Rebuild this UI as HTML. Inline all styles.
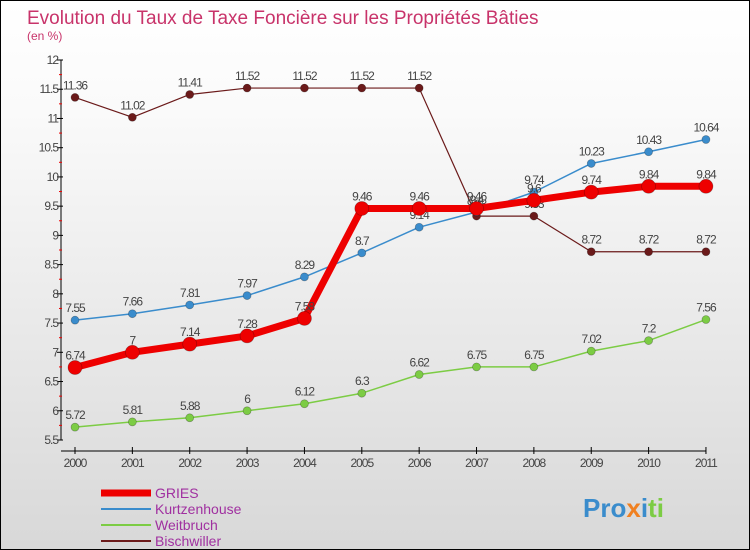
<!DOCTYPE html>
<html><head><meta charset="utf-8"><style>
body{margin:0;}
#wrap{width:748px;height:548px;border:1px solid #000;position:relative;background:linear-gradient(#fff,#fafafa 20%,#d8d8d8);font-family:"Liberation Sans",sans-serif;overflow:hidden}
</style></head><body>
<div id="wrap">
<svg id="c" width="748" height="548"></svg>
</div>
<script>
const years=["2000","2001","2002","2003","2004","2005","2006","2007","2008","2009","2010","2011"];
const gries=[6.74,7,7.14,7.28,7.58,9.46,9.46,9.46,9.6,9.74,9.84,9.84];
const kurtz=[7.55,7.66,7.81,7.97,8.29,8.7,9.14,9.4,9.74,10.23,10.43,10.64];
const weit=[5.72,5.81,5.88,6,6.12,6.3,6.62,6.75,6.75,7.02,7.2,7.56];
const bisch=[11.36,11.02,11.41,11.52,11.52,11.52,11.52,9.33,9.33,8.72,8.72,8.72];
const yTicks=[5.5,6,6.5,7,7.5,8,8.5,9,9.5,10,10.5,11,11.5,12];
const NS="http://www.w3.org/2000/svg";
const svg=document.getElementById('c');
function X(i){return 74+i*57.36;}
function Y(v){return 59+(12-v)*58.46;}
function el(t,a,p){const e=document.createElementNS(NS,t);for(const k in a)e.setAttribute(k,a[k]);(p||svg).appendChild(e);return e;}
let t=el('text',{x:26,y:23,'font-size':19,fill:'#c8336a'});t.textContent="Evolution du Taux de Taxe Foncière sur les Propriétés Bâties";


t=el('text',{x:26,y:39,'font-size':12,fill:'#c8336a'});t.textContent="(en %)";


// axes
let a=el('line',{x1:60,y1:Y(12),x2:60,y2:Y(5.5),stroke:'#000'});


a=el('line',{x1:60,y1:450,x2:X(11),y2:450,stroke:'#000'});


yTicks.forEach((v,i)=>{
  el('line',{x1:56,y1:Y(v),x2:62,y2:Y(v),stroke:'#000'});
  if(i<yTicks.length-1)el('line',{x1:58,y1:Y(v+0.25),x2:61,y2:Y(v+0.25),stroke:'#e00'});
  const tt=el('text',{x:57,y:Y(v)+4,'font-size':12,'text-anchor':'end',fill:'#444','letter-spacing':'-1'});tt.textContent=v;
  
  
});
years.forEach((y,i)=>{
  el('line',{x1:X(i),y1:446,x2:X(i),y2:453,stroke:'#000'});
  const tt=el('text',{x:X(i),y:466,'font-size':12,'text-anchor':'middle',fill:'#444','letter-spacing':'-1'});tt.textContent=y;
  
  
});
function series(d,col,w,r,name){
  const g=el('g',{});
  
  
  el('polyline',{points:d.map((v,i)=>X(i)+','+Y(v)).join(' '),fill:'none',stroke:col,'stroke-width':w,'stroke-linejoin':'round'},g);
  d.forEach((v,i)=>{
    const c=el('circle',{cx:X(i),cy:Y(v),r:r,fill:col,stroke:'rgba(0,0,0,0.3)','stroke-width':0.7},g);
    
    
    const tt=el('text',{x:X(i),y:Y(v)-8,'font-size':12,'text-anchor':'middle',fill:'#444','letter-spacing':'-1'},g);tt.textContent=v;
    
    
  });
}
series(bisch,'#6b1a1a',1.2,4,'bischwiller');
series(weit,'#7ccc44',1.5,4,'weitbruch');
series(kurtz,'#3a8ccc',1.5,4,'kurtzenhouse');
series(gries,'#ee0000',7,7,'gries');
// legend
const leg=[["GRIES","#ee0000",7],["Kurtzenhouse","#3a8ccc",2],["Weitbruch","#7ccc44",2],["Bischwiller","#6b1a1a",2]];
leg.forEach((l,i)=>{
  const y=492+i*16;
  const g=el('g',{});
  
  
  el('line',{x1:100,y1:y,x2:150,y2:y,stroke:l[1],'stroke-width':l[2]},g);
  const tt=el('text',{x:154,y:y+5,'font-size':14,fill:'#a030a0'},g);tt.textContent=l[0];
});
const lg=el('text',{x:582,y:516,'font-size':26,'font-weight':'bold',fill:'#3a8ccc'});
lg.innerHTML='<tspan fill="#3a8ccc">Pro</tspan><tspan fill="#f08020">x</tspan><tspan fill="#3a8ccc">i</tspan><tspan fill="#7ccc44">ti</tspan>';


</script>
</body></html>
